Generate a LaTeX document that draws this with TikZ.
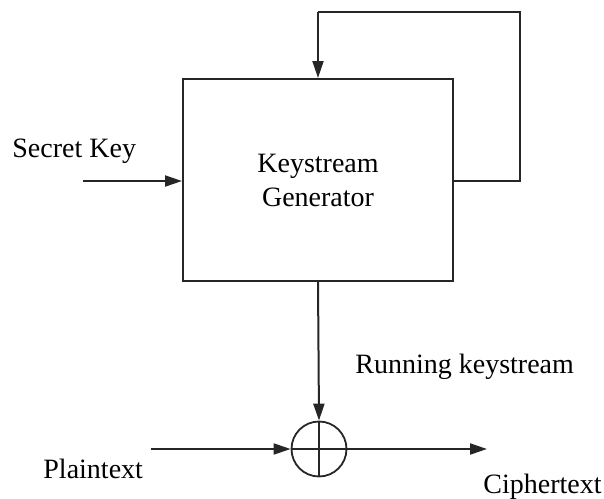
\documentclass[tikz,border=0pt]{standalone}
\usepackage{fontspec}
\setmainfont{Liberation Serif}
\usepackage{tikz}
\usetikzlibrary{calc, positioning, arrows.meta, shapes.geometric}
\tikzset{
    genbox/.style={rectangle, draw=black!85, line width=1pt, minimum width=135pt, minimum height=101pt, align=center, inner sep=0pt, font=\fontsize{14}{17}\selectfont},
    xor/.style={circle, draw=black!85, line width=0.9pt, inner sep=0pt, minimum size=27.5pt, path picture={\draw[line width=0.9pt] (path picture bounding box.north) -- (path picture bounding box.south) (path picture bounding box.west) -- (path picture bounding box.east);}},
    arrow/.style={-{Triangle[length=8.5pt, width=5.5pt]}, line width=1pt, draw=black!85},
    wire/.style={line width=1pt, draw=black!85},
    tag/.style={font=\fontsize{14}{17}\selectfont, anchor=base west, inner sep=0pt}
}

\begin{document}
\begin{tikzpicture}[x=0.5pt, y=-0.5pt]
    \useasboundingbox (0,0) rectangle (604,498);

    % Generator and combiner
    \node[genbox] (gen) at (318,180) {Keystream\\Generator};
    \node[xor] (xor) at (319,449) {};

    % Labels
    \node[tag] (key) at (12,157) {Secret Key};
    \node[tag] (run) at (355,373) {Running keystream};
    \node[tag] (plain) at (43,478) {Plaintext};
    \node[tag] (cipher) at (483,493) {Ciphertext};

    % Free ends
    \coordinate (keyin) at (83,181);
    \coordinate (plainin) at (151,449);
    \coordinate (cipherout) at (487,449);
    \coordinate (fbR) at (520,181);
    \coordinate (fbT) at (520,12);
    \coordinate (fbL) at (318,12);

    % Connectors
    \draw[arrow] (keyin) -- (keyin -| gen.west);
    \draw[wire] (fbR -| gen.east) -- (fbR) -- (fbT) -- (fbL);
    \draw[arrow] (fbL) -- (gen.north);
    \draw[arrow] (gen.south) -- (xor.north);
    \draw[arrow] (plainin) -- (xor.west);
    \draw[arrow] (xor.east) -- (cipherout);
\end{tikzpicture}
\end{document}
